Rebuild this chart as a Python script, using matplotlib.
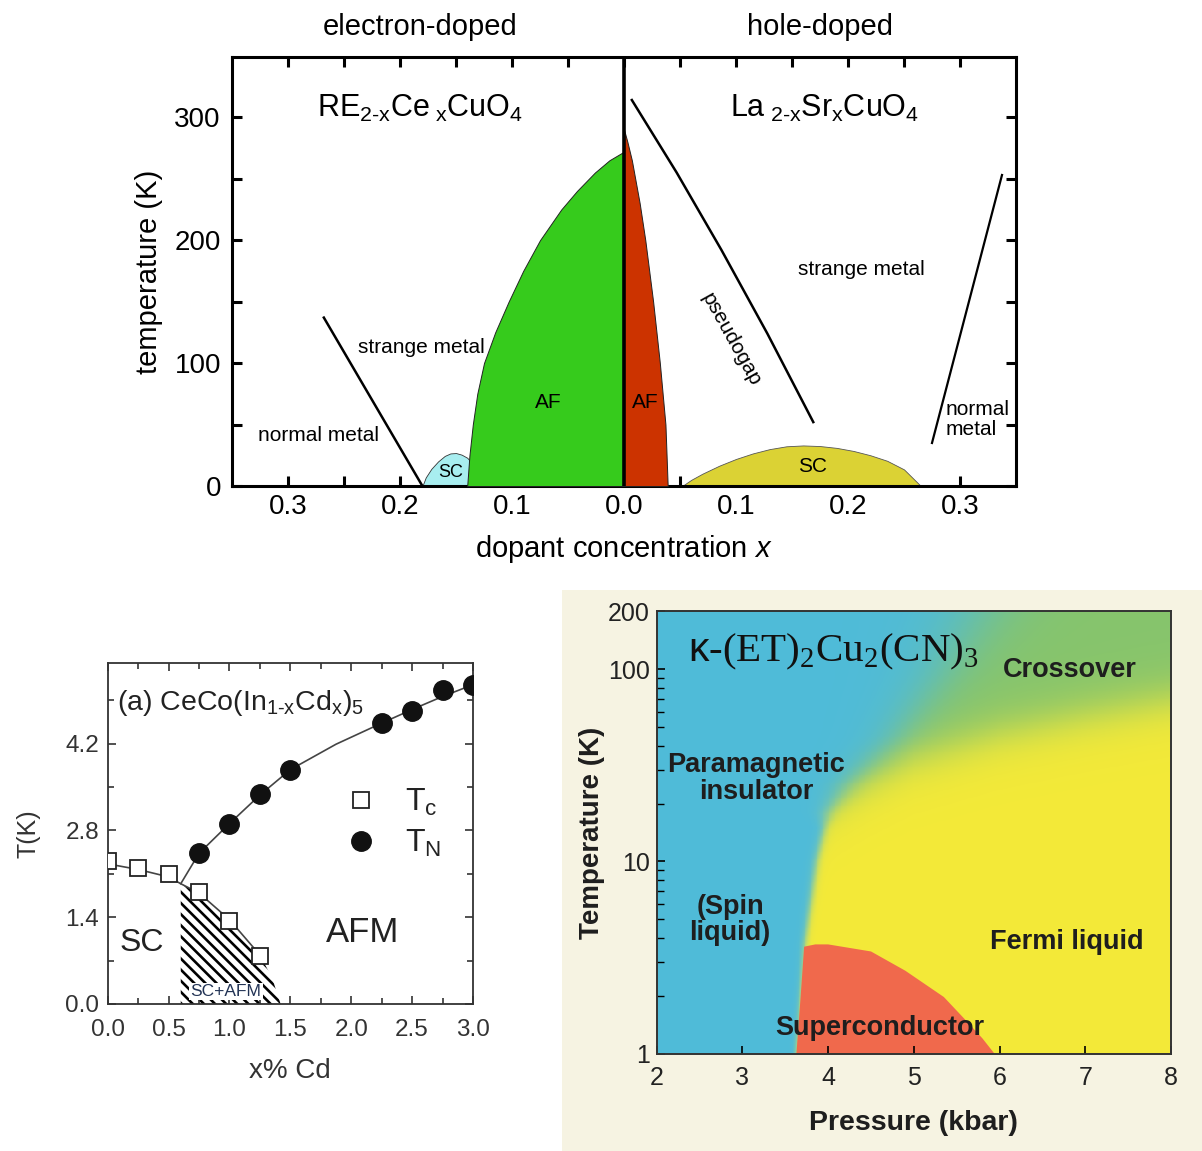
import numpy as np
import matplotlib
matplotlib.use('Agg')
import matplotlib.pyplot as plt
from matplotlib.patches import Rectangle

plt.rcParams['font.family'] = ['Liberation Sans', 'DejaVu Sans']
plt.rcParams['mathtext.fontset'] = 'custom'
plt.rcParams['mathtext.rm'] = 'Liberation Sans'
plt.rcParams['mathtext.it'] = 'Liberation Sans:italic'
plt.rcParams['mathtext.sf'] = 'Liberation Sans'
plt.rcParams['hatch.linewidth'] = 1.9

# ---------------- Top panel data (electron-doped side at negative x) ----------------
ed_af_T = [0, 25, 50, 75, 100, 125, 150, 175, 200, 225, 240, 255, 265, 272]
ed_af_x = [-0.140, -0.138, -0.135, -0.131, -0.125, -0.115, -0.103, -0.090, -0.075,
           -0.056, -0.042, -0.026, -0.013, 0.0]
ed_sc_x = [-0.180, -0.177, -0.172, -0.166, -0.160, -0.155, -0.150, -0.145, -0.140, -0.137]
ed_sc_T = [0, 7, 14, 20, 24.5, 26.5, 26.8, 25.5, 23, 20]
ed_line_x = [-0.268, -0.180]
ed_line_T = [137, 0]

hd_af_T = [0, 25, 50, 100, 150, 200, 230, 250, 265, 280, 290]
hd_af_x = [0.039, 0.038, 0.037, 0.032, 0.026, 0.019, 0.014, 0.010, 0.007, 0.003, 0.0]
hd_sc_x = [0.052, 0.06, 0.07, 0.085, 0.10, 0.115, 0.13, 0.145, 0.16, 0.175, 0.19, 0.205,
           0.22, 0.235, 0.25, 0.265]
hd_sc_T = [0, 5, 10, 16.5, 22, 26.5, 30, 32.3, 33, 32.5, 31, 28.5, 25, 20.5, 13.5, 0]
pg_x = [0.007, 0.047, 0.087, 0.128, 0.169]
pg_T = [314, 255, 192, 124, 52]
nm_x = [0.275, 0.3375]
nm_T = [35, 253]

top_xticks = [-0.30, -0.25, -0.20, -0.15, -0.10, -0.05, 0.0, 0.05, 0.10, 0.15, 0.20, 0.25, 0.30]
top_xticklabels = ['0.3', '', '0.2', '', '0.1', '', '0.0', '', '0.1', '', '0.2', '', '0.3']
top_yticks = [0, 50, 100, 150, 200, 250, 300]
top_yticklabels = ['0', '', '100', '', '200', '', '300']

# ---------------- Bottom-left data: CeCo(In1-xCdx)5 ----------------
tc_x = [0.0, 0.25, 0.5, 0.75, 1.0, 1.25]
tc_T = [2.30, 2.19, 2.09, 1.80, 1.34, 0.77]
tn_x = [0.75, 1.0, 1.25, 1.5, 2.25, 2.5, 2.75, 3.0]
tn_T = [2.43, 2.91, 3.39, 3.78, 4.53, 4.72, 5.07, 5.15]
tc_line_x = [0.0, 0.25, 0.5, 0.6, 0.75, 1.0, 1.25]
tc_line_T = [2.26, 2.17, 2.05, 1.94, 1.79, 1.36, 0.79]
tn_line_x = [0.6, 0.75, 1.0, 1.25, 1.5, 1.875, 2.25, 2.5, 2.75, 3.0]
tn_line_T = [1.94, 2.43, 2.91, 3.37, 3.78, 4.19, 4.53, 4.75, 4.96, 5.15]
coex_x = [0.6, 0.6, 0.75, 1.0, 1.25, 1.35, 1.42]
coex_T = [0.0, 1.94, 1.79, 1.36, 0.79, 0.42, 0.0]

# ---------------- Bottom-right data: kappa-(ET)2Cu2(CN)3 ----------------
ins_T = [1, 3.75, 10, 18, 25, 45, 90, 200]
ins_P = [3.63, 3.73, 3.87, 4.0, 4.2, 4.8, 5.3, 5.8]
fl_P = [4.0, 4.5, 5.0, 6.0, 7.0, 8.0]
fl_T = [20, 27, 35, 47, 58, 70]
sc_P = [3.63, 3.68, 3.72, 3.85, 4.0, 4.5, 4.9, 5.35, 5.6, 5.8, 5.94]
sc_T = [1.0, 2.0, 3.6, 3.7, 3.7, 3.4, 2.7, 1.97, 1.5, 1.2, 1.0]

W, H = 1202, 1151
fig = plt.figure(figsize=(W / 100, H / 100), dpi=100)
fig.patch.set_facecolor('white')
fig.patches.append(Rectangle((562 / W, 0), (W - 562) / W, 561 / H, transform=fig.transFigure,
                             facecolor='#f6f3e2', edgecolor='none', zorder=-10))

# =============== TOP PANEL ===============
ax = fig.add_axes([232 / W, 1 - 486 / H, 784 / W, 429 / H])
ax.set_xlim(-0.35, 0.35)
ax.set_ylim(0, 349)
ax.fill_between(ed_sc_x, 0, ed_sc_T, facecolor='#a8eef0', edgecolor='#333333', lw=0.6, zorder=2)
ax.fill_betweenx(ed_af_T, ed_af_x, 0, facecolor='#36cb1c', edgecolor='#222222', lw=0.7, zorder=3)
ax.fill_betweenx(hd_af_T, 0, hd_af_x, facecolor='#cc3300', edgecolor='#222222', lw=0.7, zorder=3)
ax.fill_between(hd_sc_x, 0, hd_sc_T, facecolor='#dbd234', edgecolor='#555555', lw=0.6, zorder=2)
ax.plot(ed_line_x, ed_line_T, color='k', lw=1.8, zorder=4)
ax.plot(pg_x, pg_T, color='k', lw=1.8, zorder=4)
ax.plot(nm_x, nm_T, color='k', lw=1.6, zorder=4)
ax.axvline(0, color='k', lw=2.6, zorder=5)
for s in ax.spines.values():
    s.set_linewidth(2.2)
ax.set_xticks(top_xticks)
ax.set_xticklabels(top_xticklabels)
ax.set_yticks(top_yticks)
ax.set_yticklabels(top_yticklabels)
ax.tick_params(direction='in', top=True, right=True, length=7, width=2.2, labelsize=20)
ax.tick_params(axis='x', pad=6)
ax.tick_params(axis='y', pad=8)
ax.set_ylabel('temperature (K)', fontsize=21, labelpad=8)
ax.set_xlabel('dopant concentration $x$', fontsize=21, labelpad=9)
ax.text(-0.182, 307, r'RE$_{\mathregular{2\text{-}x}}$Ce$_{\mathregular{\ x}}$CuO$_{\mathregular{4}}$',
        fontsize=22, ha='center', va='center')
ax.text(0.179, 307, r'La$_{\mathregular{\ 2\text{-}x}}$Sr$_{\mathregular{x}}$CuO$_{\mathregular{4}}$',
        fontsize=22, ha='center', va='center')
ax.text(-0.181, 113, 'strange metal', fontsize=15, ha='center', va='center')
ax.text(-0.273, 41, 'normal metal', fontsize=15, ha='center', va='center')
ax.text(-0.068, 68, 'AF', fontsize=15, ha='center', va='center', zorder=6)
ax.text(0.019, 68, 'AF', fontsize=15, ha='center', va='center', zorder=6)
ax.text(-0.155, 11, 'SC', fontsize=13, ha='center', va='center', zorder=6)
ax.text(0.168, 16, 'SC', fontsize=15, ha='center', va='center', zorder=6)
ax.text(0.212, 176, 'strange metal', fontsize=15, ha='center', va='center')
ax.text(0.096, 119, 'pseudogap', fontsize=15, ha='center', va='center', rotation=-61)
ax.text(0.287, 54, 'normal\nmetal', fontsize=15, ha='left', va='center', linespacing=1.1)
fig.text(420 / W, 1 - 27 / H, 'electron-doped', fontsize=21, ha='center', va='center')
fig.text(820 / W, 1 - 27 / H, 'hole-doped', fontsize=21, ha='center', va='center')

# =============== BOTTOM-LEFT PANEL ===============
gc = '#333333'
bx = fig.add_axes([107.7 / W, 1 - 1004 / H, 365.3 / W, 341 / H])
bx.set_xlim(0, 3.0)
bx.set_ylim(0, 5.5)
bx.fill(coex_x, coex_T, facecolor='white', edgecolor='black', hatch='\\\\\\', lw=0, zorder=1)
bx.plot(tc_line_x, tc_line_T, color='#444444', lw=1.2, zorder=2)
bx.plot(tn_line_x, tn_line_T, color='#444444', lw=1.2, zorder=2)
bx.plot(tc_x, tc_T, ls='none', marker='s', ms=11, mfc='white', mec='#222222', mew=1.3, zorder=4,
        label=r'T$_{\mathregular{c}}$')
bx.plot(tn_x, tn_T, ls='none', marker='o', ms=14, mfc='#111111', mec='#111111', zorder=4,
        label=r'T$_{\mathregular{N}}$')
for s in bx.spines.values():
    s.set_linewidth(1.3)
    s.set_color(gc)
bx.set_xticks([0.0, 0.5, 1.0, 1.5, 2.0, 2.5, 3.0])
bx.set_xticks(np.arange(0, 3.01, 0.25), minor=True)
bx.set_yticks([0.0, 1.4, 2.8, 4.2])
bx.set_yticks(np.arange(0, 5.5, 0.7), minor=True)
bx.tick_params(which='both', direction='in', top=True, right=True, width=1.2, color=gc,
               labelsize=17.5, labelcolor=gc)
bx.tick_params(axis='x', which='both', pad=11)
bx.tick_params(axis='y', which='both', pad=6)
bx.tick_params(which='major', length=6)
bx.tick_params(which='minor', length=4)
bx.set_xlabel('x% Cd', fontsize=20, color=gc, labelpad=12)
bx.set_ylabel('T(K)', fontsize=18, color=gc, labelpad=18)
bx.text(0.08, 4.85, r'(a) CeCo(In$_{\mathregular{1\text{-}x}}$Cd$_{\mathregular{x}}$)$_{\mathregular{5}}$',
        fontsize=20.5, color='#222222', ha='left', va='center')
bx.text(0.28, 0.98, 'SC', fontsize=23, color='#222222', ha='center', va='center')
bx.text(2.09, 1.16, 'AFM', fontsize=25, color='#222222', ha='center', va='center')
bx.text(0.97, 0.2, 'SC+AFM', fontsize=12.5, color='#223355', ha='center', va='center', zorder=5,
        bbox=dict(facecolor='white', edgecolor='none', pad=1.0))
leg = bx.legend(loc='center', bbox_to_anchor=(0.79, 0.53), frameon=False, fontsize=23,
                handlelength=0.6, handletextpad=1.1, labelspacing=0.3, labelcolor='#222222')

# =============== BOTTOM-RIGHT PANEL ===============
cx = fig.add_axes([656.7 / W, 1 - 1053.6 / H, 514.3 / W, 442.2 / H])
P = np.linspace(2, 8, 601)
lT = np.linspace(0, np.log10(200), 501)
PP, LL = np.meshgrid(P, lT)
Pb = np.interp(LL, np.log10(ins_T), ins_P)
wb = np.interp(LL, [0, np.log10(15), np.log10(30), np.log10(200)], [0.015, 0.03, 0.13, 0.3])
t1 = 1 / (1 + np.exp(-(PP - Pb) / wb))
Lfl = np.interp(PP, fl_P, np.log10(fl_T))
t2 = 1 / (1 + np.exp(-(LL - Lfl) / 0.07))
blue = np.array([0x4f, 0xbb, 0xd8]) / 255
yellow = np.array([0xf3, 0xe9, 0x38]) / 255
green = np.array([0x86, 0xc4, 0x6c]) / 255
rgb = ((1 - t1)[..., None] * blue
       + t1[..., None] * ((1 - t2)[..., None] * yellow + t2[..., None] * green))
cx.pcolormesh(P, 10 ** lT, np.clip(rgb, 0, 1), shading='auto', rasterized=True, zorder=0)
cx.fill_between(sc_P, 1, sc_T, facecolor='#f0694c', edgecolor='none', zorder=1)
cx.set_yscale('log')
cx.set_xlim(2, 8)
cx.set_ylim(1, 200)
cx.set_xticks([2, 3, 4, 5, 6, 7, 8])
cx.set_yticks([1, 10, 100, 200])
cx.set_yticklabels(['1', '10', '100', '200'])
cx.tick_params(which='major', direction='in', length=6, width=1.2, labelsize=18,
               labelcolor='#222222', pad=5)
cx.tick_params(axis='x', which='major', pad=9)
cx.tick_params(which='minor', direction='in', length=5, width=1.0, labelleft=False)
cx.tick_params(axis='x', which='minor', bottom=False)
for s in cx.spines.values():
    s.set_linewidth(1.4)
    s.set_color('#333333')
dk = '#1e1e1e'
cx.set_xlabel('Pressure (kbar)', fontsize=20.5, fontweight='bold', color=dk, labelpad=14)
cx.set_ylabel('Temperature (K)', fontsize=20, fontweight='bold', color=dk, labelpad=2)
cx.text(2.365, 123, r'$\mathsf{\kappa}$-(ET)$_{\mathregular{2}}$Cu$_{\mathregular{2}}$(CN)$_{\mathregular{3}}$',
        fontsize=29.5, family=['Liberation Serif'], color='#111111', ha='left', va='center')
cx.text(6.82, 99, 'Crossover', fontsize=19.5, fontweight='bold', color=dk, ha='center', va='center')
cx.text(3.16, 27.0, 'Paramagnetic\ninsulator', fontsize=19.5, fontweight='bold', color=dk,
        ha='center', va='center', linespacing=1.05)
cx.text(2.855, 4.98, '(Spin\nliquid)', fontsize=19.5, fontweight='bold', color=dk,
        ha='center', va='center', linespacing=1.0)
cx.text(6.79, 3.82, 'Fermi liquid', fontsize=19.5, fontweight='bold', color=dk, ha='center', va='center')
cx.text(4.605, 1.36, 'Superconductor', fontsize=19.5, fontweight='bold', color=dk,
        ha='center', va='center', zorder=3)

fig.savefig('out.png', dpi=100)
